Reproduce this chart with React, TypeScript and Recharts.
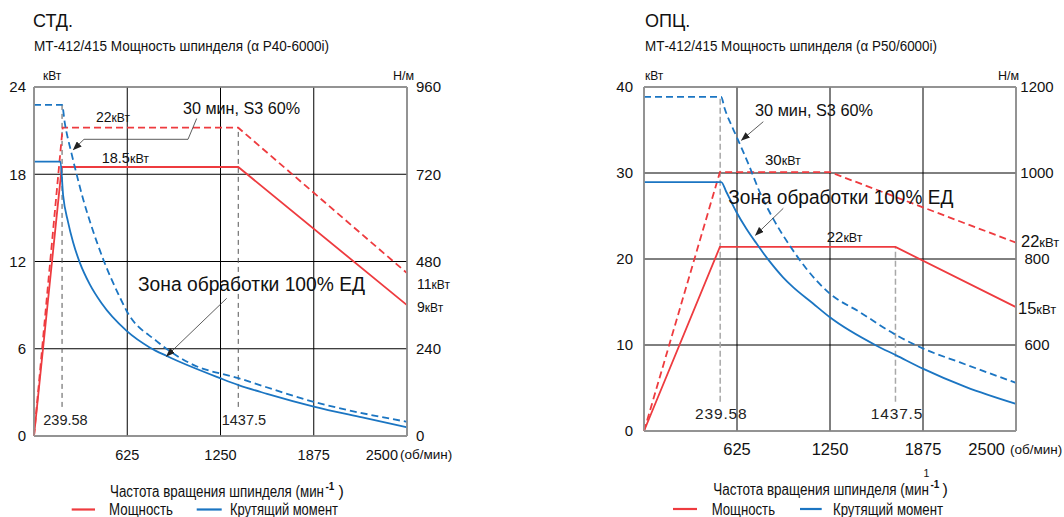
import { ComposedChart, Line, XAxis, YAxis, CartesianGrid, ReferenceLine } from "recharts"

// СТД. — α P40-6000i (rpm / kW / N·m)
const stdPowerRpm = [0, 186, 1369, 2500]
const stdPowerKw = [0, 18.5, 18.5, 9.0]
const stdPower30Rpm = [0, 192, 1369, 2500]
const stdPower30Kw = [0, 21.2, 21.2, 11.2]
const stdTorqueRpm = [0, 177, 195, 228, 262, 307, 374, 453, 621, 778, 890, 1248, 1371, 1562, 1875, 2200, 2500]
const stdTorqueNm = [755, 755, 663, 589, 533, 477, 417, 365, 289, 243, 220, 159, 140, 116, 81, 51, 24]
const stdTorque30Rpm = [0, 188, 206, 251, 285, 329, 386, 464, 576, 621, 822, 1046, 1371, 1875, 2500]
const stdTorque30Nm = [911, 911, 862, 778, 721, 652, 576, 486, 381, 344, 261, 200, 159, 94, 39]
const stdMarkRpm = [188, 1369]
const stdMarkTopKw = [22.8, 21.2]
const stdMarkLabels = ["239.58", "1437.5"]
const stdKwTicks = [0, 6, 12, 18, 24]
const stdNmTicks = [0, 240, 480, 720, 960]

// ОПЦ. — α P50/6000i
const optPowerRpm = [0, 510, 1690, 2500]
const optPowerKw = [0, 21.4, 21.4, 14.4]
const optPower30Rpm = [0, 510, 1251, 2500]
const optPower30Kw = [0, 30.1, 30.1, 21.9]
const optTorqueRpm = [0, 519, 552, 620, 687, 754, 843, 933, 1000, 1134, 1247, 1560, 1695, 1874, 2165, 2500]
const optTorqueNm = [979, 979, 957, 910, 871, 837, 795, 758, 735, 697, 665, 599, 576, 545, 502, 463]
const optTorque30Rpm = [0, 519, 541, 597, 642, 709, 776, 866, 978, 1090, 1247, 1448, 1695, 1874, 2120, 2500]
const optTorque30Nm = [1177, 1177, 1151, 1104, 1069, 1015, 957, 895, 832, 778, 720, 677, 623, 592, 560, 512]
const optMarkRpm = [512, 1690]
const optMarkTopKw = [38.9, 21.4]
const optMarkLabels = ["239.58", "1437.5"]
const optKwTicks = [0, 10, 20, 30, 40]
const optNmTicks = [600, 800, 1000, 1200]

const rpmTicks = [625, 1250, 1875, 2500]

const FONT = '"Liberation Sans", Arial, Helvetica, sans-serif'
const RED = "#ee3b3f"
const BLUE = "#1b75c2"
const BORDER = "#9a9a9a"
const INK = "#111"

const rows = (rpm: number[], vals: number[]) => rpm.map((r, i) => ({ rpm: r, v: vals[i] }))

const makeXTick = (fs: number, endGap: number, unitGap: number) => (props: any) => {
  const { x, y, payload } = props
  if (payload.value === 2500) {
    return (
      <g>
        <text x={x - endGap} y={y + 24} textAnchor="end" fontSize={fs} fill={INK}>2500</text>
        <text x={x - unitGap} y={y + 23} fontSize={13.5} fill={INK}>(об/мин)</text>
      </g>
    )
  }
  return (
    <text x={x} y={y + 24} textAnchor="middle" fontSize={fs} fill={INK}>
      {payload.value}
    </text>
  )
}

type Cfg = {
  left: number
  width: number
  kwWidth: number
  nmWidth: number
  xHeight: number
  kwDomain: number[]
  kwTicks: number[]
  nmDomain: number[]
  nmTicks: number[]
  kwMargin: number
  nmMargin: number
  nmAnchor: string
  xFont: number
  endGap: number
  unitGap: number
  power: { rpm: number; v: number }[]
  power30: { rpm: number; v: number }[]
  torque: { rpm: number; v: number }[]
  torque30: { rpm: number; v: number }[]
  markRpm: number[]
  markTop: number[]
  markBottom: number
  markColor: string
  markDash: string
  markWidth: number
}

function SpindleChart({ c }: { c: Cfg }) {
  return (
    <div style={{ position: "absolute", left: c.left, top: 0 }}>
      <ComposedChart width={c.width} height={517} margin={{ top: 87, right: 0, bottom: 0, left: 0 }}>
        <CartesianGrid yAxisId="kw" stroke="#000" strokeWidth={1} />
        <XAxis
          type="number"
          dataKey="rpm"
          domain={[0, 2500]}
          ticks={rpmTicks}
          interval={0}
          height={c.xHeight}
          tickSize={0}
          tickMargin={0}
          tickLine={false}
          axisLine={{ stroke: BORDER, strokeWidth: 1.5 }}
          tick={makeXTick(c.xFont, c.endGap, c.unitGap)}
        />
        <YAxis
          yAxisId="kw"
          orientation="left"
          width={c.kwWidth}
          domain={c.kwDomain}
          ticks={c.kwTicks}
          interval={0}
          tickSize={0}
          tickMargin={c.kwMargin}
          tickLine={false}
          axisLine={{ stroke: BORDER, strokeWidth: 1.5 }}
          tick={{ fontSize: 15, fill: INK }}
        />
        <YAxis
          yAxisId="nm"
          orientation="right"
          width={c.nmWidth}
          domain={c.nmDomain}
          ticks={c.nmTicks}
          interval={0}
          tickSize={0}
          tickMargin={c.nmMargin}
          tickLine={false}
          axisLine={{ stroke: BORDER, strokeWidth: 1.5 }}
          tick={{ fontSize: 15, fill: INK, textAnchor: c.nmAnchor }}
        />
        <ReferenceLine yAxisId="kw" y={c.kwDomain[1]} stroke={BORDER} strokeWidth={1.5} />
        {c.markRpm.map((r, i) => (
          <ReferenceLine
            key={r}
            yAxisId="kw"
            segment={[{ x: r, y: c.markBottom }, { x: r, y: c.markTop[i] }]}
            stroke={c.markColor}
            strokeWidth={c.markWidth}
            strokeDasharray={c.markDash}
          />
        ))}
        <Line yAxisId="kw" data={c.power30} dataKey="v" type="linear" stroke={RED} strokeWidth={1.8} strokeDasharray="7 4" dot={false} isAnimationActive={false} />
        <Line yAxisId="kw" data={c.power} dataKey="v" type="linear" stroke={RED} strokeWidth={1.8} dot={false} isAnimationActive={false} />
        <Line yAxisId="nm" data={c.torque30} dataKey="v" type="monotone" stroke={BLUE} strokeWidth={1.8} strokeDasharray="7 4" dot={false} isAnimationActive={false} />
        <Line yAxisId="nm" data={c.torque} dataKey="v" type="monotone" stroke={BLUE} strokeWidth={1.8} dot={false} isAnimationActive={false} />
      </ComposedChart>
    </div>
  )
}

const stdCfg: Cfg = {
  left: 0, width: 530, kwWidth: 34, nmWidth: 123, xHeight: 81,
  kwDomain: [0, 24], kwTicks: stdKwTicks, nmDomain: [0, 960], nmTicks: stdNmTicks,
  kwMargin: 8, nmMargin: 9, nmAnchor: "start",
  xFont: 14.5, endGap: 9, unitGap: 7,
  power: rows(stdPowerRpm, stdPowerKw), power30: rows(stdPower30Rpm, stdPower30Kw),
  torque: rows(stdTorqueRpm, stdTorqueNm), torque30: rows(stdTorque30Rpm, stdTorque30Nm),
  markRpm: stdMarkRpm, markTop: stdMarkTopKw, markBottom: 2, markColor: "#555", markDash: "5 4", markWidth: 1,
}

const optCfg: Cfg = {
  left: 600, width: 464, kwWidth: 44, nmWidth: 48, xHeight: 86,
  kwDomain: [0, 40], kwTicks: optKwTicks, nmDomain: [400, 1200], nmTicks: optNmTicks,
  kwMargin: 11, nmMargin: 21, nmAnchor: "middle",
  xFont: 16.5, endGap: 11, unitGap: 6,
  power: rows(optPowerRpm, optPowerKw), power30: rows(optPower30Rpm, optPower30Kw),
  torque: rows(optTorqueRpm, optTorqueNm), torque30: rows(optTorque30Rpm, optTorque30Nm),
  markRpm: optMarkRpm, markTop: optMarkTopKw, markBottom: 3.4, markColor: "#a8a8a8", markDash: "6 3", markWidth: 1.5,
}

function Kw({ x, y, n, big, small }: { x: number; y: number; n: string; big: number; small: number }) {
  return (
    <text x={x} y={y} fill={INK}>
      <tspan fontSize={big}>{n}</tspan>
      <tspan fontSize={small}>кВт</tspan>
    </text>
  )
}

// "-1)" closing of the axis title: superscript and bracket in one text
function SupClose({ x, y, gap }: { x: number; y: number; gap: number }) {
  return (
    <text x={x} y={y} fill={INK}>
      <tspan dy={-7} fontSize={10} fontWeight="bold">-1</tspan>
      <tspan dy={7} dx={gap} fontSize={16}>)</tspan>
    </text>
  )
}

function Overlay() {
  const arrow = { stroke: "#333", strokeWidth: 0.8, fill: "none", markerEnd: "url(#ah)" }
  return (
    <svg width={1064} height={517} style={{ position: "absolute", left: 0, top: 0, pointerEvents: "none" }} fontFamily={FONT}>
      <defs>
        <marker id="ah" markerWidth={9} markerHeight={7} refX={8} refY={3.5} orient="auto" markerUnits="userSpaceOnUse">
          <path d="M0,0 L9,3.5 L0,7 z" fill="#222" />
        </marker>
      </defs>

      {/* titles */}
      <text x={33} y={27} fontSize={18} fill={INK}>СТД.</text>
      <text x={34} y={51} fontSize={14} fill={INK} textLength={295} lengthAdjust="spacingAndGlyphs">МТ-412/415 Мощность шпинделя (α P40-6000i)</text>
      <text x={645} y={27} fontSize={18} fill={INK}>ОПЦ.</text>
      <text x={645} y={51} fontSize={14} fill={INK} textLength={292} lengthAdjust="spacingAndGlyphs">МТ-412/415 Мощность шпинделя (α P50/6000i)</text>

      {/* units */}
      <text x={43} y={79.5} fontSize={12} fill={INK}>кВт</text>
      <text x={393} y={80} fontSize={12.5} fill={INK}>Н/м</text>
      <text x={645} y={80} fontSize={12} fill={INK}>кВт</text>
      <text x={998} y={80} fontSize={12.5} fill={INK}>Н/м</text>

      {/* left annotations */}
      <text x={183} y={113.5} fontSize={16} fill={INK} textLength={117} lengthAdjust="spacingAndGlyphs">30 мин, S3 60%</text>
      <polyline points="196.7,118.5 188,139.3 84,139.3 73.5,149.5" {...arrow} />
      <Kw x={96} y={121.7} n="22" big={14} small={12} />
      <Kw x={101.7} y={163.3} n="18.5" big={14.5} small={12.5} />
      <text x={138} y={290.7} fontSize={19.5} fill={INK} textLength={227} lengthAdjust="spacingAndGlyphs">Зона обработки 100% ЕД</text>
      <line x1={226.7} y1={298.3} x2={166.7} y2={356} {...arrow} />
      <Kw x={417} y={288.5} n="11" big={14} small={12} />
      <Kw x={417} y={311.7} n="9" big={14} small={12} />
      {stdMarkLabels.map((l, i) => (
        <text key={l} x={[43.3, 221.7][i]} y={425} fontSize={14.5} fill="#222">{l}</text>
      ))}

      {/* right annotations */}
      <text x={755} y={116} fontSize={16} fill={INK} textLength={118} lengthAdjust="spacingAndGlyphs">30 мин, S3 60%</text>
      <line x1={763.3} y1={121.7} x2={741.7} y2={140} {...arrow} />
      <Kw x={765} y={165} n="30" big={15} small={12.5} />
      <text x={728.3} y={204} fontSize={19.5} fill={INK} textLength={225} lengthAdjust="spacingAndGlyphs">Зона обработки 100% ЕД</text>
      <line x1={783.3} y1={208.3} x2={755.7} y2={235} {...arrow} />
      <Kw x={826.7} y={242} n="22" big={15} small={12.5} />
      <Kw x={1021} y={246.5} n="22" big={16.5} small={13} />
      <Kw x={1018} y={314.3} n="15" big={16.5} small={13} />
      {optMarkLabels.map((l, i) => (
        <text key={l} x={[695, 870.7][i]} y={419} fontSize={15.5} fill="#222" textLength={51.7} lengthAdjust="spacing">{l}</text>
      ))}

      {/* axis titles */}
      <text x={110} y={496.7} fontSize={16} fill={INK} textLength={214} lengthAdjust="spacingAndGlyphs">Частота вращения шпинделя (мин</text>
      <SupClose x={325.5} y={496.7} gap={4} />

      <text x={713.3} y={495} fontSize={16} fill={INK} textLength={215.7} lengthAdjust="spacingAndGlyphs">Частота вращения шпинделя (мин</text>
      <text x={923.5} y={476.5} fontSize={10.5} fill={INK}>1</text>
      <SupClose x={930.5} y={495} gap={3} />

      {/* legends */}
      <line x1={71.7} y1={509.5} x2={95} y2={509.5} stroke={RED} strokeWidth={2.2} />
      <text x={109} y={515} fontSize={16} fill={INK} textLength={64} lengthAdjust="spacingAndGlyphs">Мощность</text>
      <line x1={196.7} y1={509.5} x2={221.7} y2={509.5} stroke={BLUE} strokeWidth={2.2} />
      <text x={230} y={515} fontSize={16} fill={INK} textLength={108} lengthAdjust="spacingAndGlyphs">Крутящий момент</text>

      <line x1={673} y1={509} x2={697} y2={509} stroke={RED} strokeWidth={2.2} />
      <text x={711.7} y={515} fontSize={16} fill={INK} textLength={63.3} lengthAdjust="spacingAndGlyphs">Мощность</text>
      <line x1={800} y1={509} x2={821.7} y2={509} stroke={BLUE} strokeWidth={2.2} />
      <text x={833} y={515} fontSize={16} fill={INK} textLength={110} lengthAdjust="spacingAndGlyphs">Крутящий момент</text>
    </svg>
  )
}

export default function App() {
  return (
    <div style={{ position: "absolute", left: 0, top: 0, width: 1064, height: 517, background: "#fff", fontFamily: FONT, overflow: "hidden" }}>
      <SpindleChart c={stdCfg} />
      <SpindleChart c={optCfg} />
      <Overlay />
    </div>
  )
}
